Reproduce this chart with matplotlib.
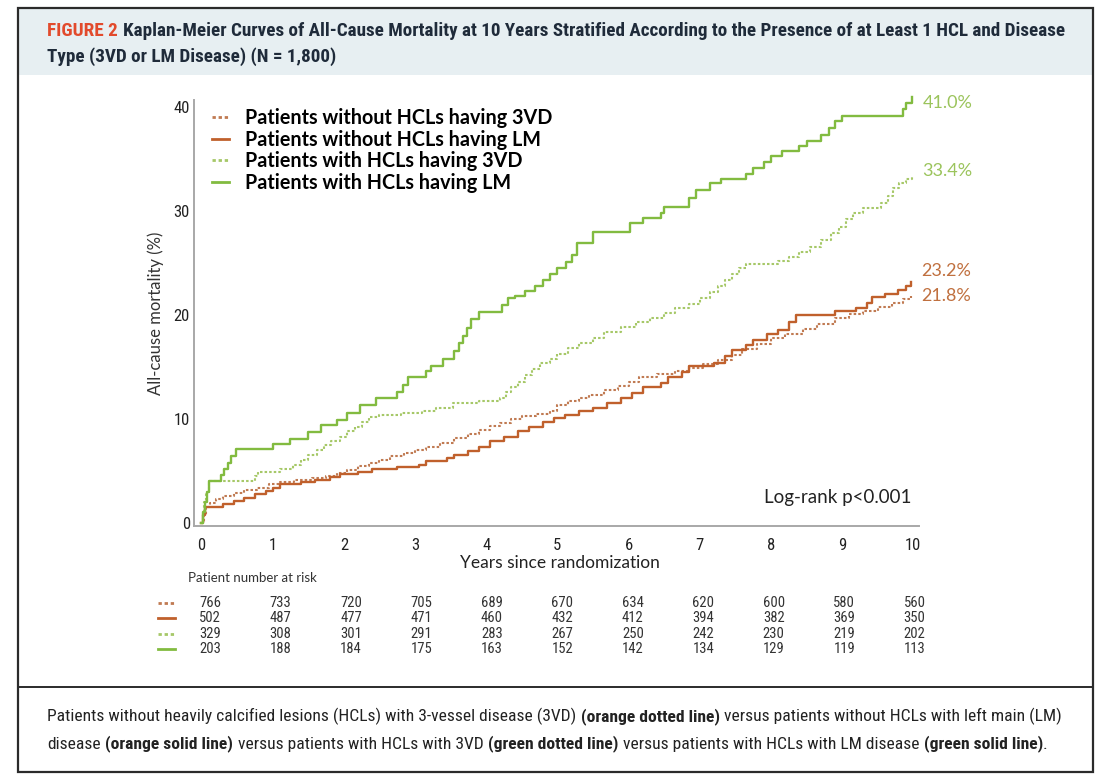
import matplotlib
matplotlib.use("Agg")
import matplotlib.pyplot as plt
import matplotlib.transforms as mtransforms
from matplotlib import font_manager
from matplotlib.lines import Line2D
from matplotlib.patches import Rectangle

# cumulative all-cause mortality (%) read at each event time (years)
t_no_hcl_3vd = [0, 0.03, 0.06, 0.12, 0.2, 0.3, 0.45, 0.6, 0.78, 0.95, 1.1, 1.3, 1.55, 1.75,
                1.9, 2.05, 2.2, 2.35, 2.5, 2.65, 2.85, 3.0, 3.15, 3.35, 3.55, 3.75, 3.9, 4.05,
                4.2, 4.35, 4.5, 4.7, 4.9, 5.0, 5.15, 5.3, 5.45, 5.65, 5.85, 6.0, 6.15, 6.4,
                6.65, 6.85, 7.05, 7.25, 7.45, 7.6, 7.8, 8.0, 8.2, 8.45, 8.65, 8.9, 9.1, 9.3,
                9.5, 9.7, 9.85, 9.97]
m_no_hcl_3vd = [0, 0.8, 1.5, 1.9, 2.3, 2.6, 2.9, 3.2, 3.4, 3.7, 3.9, 4.1, 4.3, 4.5,
                4.8, 5.1, 5.5, 5.8, 6.1, 6.4, 6.7, 7.0, 7.3, 7.7, 8.2, 8.6, 8.9, 9.3,
                9.6, 10.0, 10.3, 10.5, 10.8, 11.3, 11.7, 12.0, 12.3, 12.8, 13.2, 13.6, 14.0, 14.3,
                14.6, 14.9, 15.3, 15.7, 16.2, 16.7, 17.2, 17.8, 18.2, 18.7, 19.1, 19.7, 20.1, 20.4,
                20.8, 21.2, 21.5, 21.8]

t_no_hcl_lm = [0, 0.02, 0.05, 0.3, 0.45, 0.6, 0.75, 0.9, 1.0, 1.1, 1.4, 1.6, 1.8, 1.95,
               2.2, 2.4, 2.75, 3.05, 3.15, 3.45, 3.55, 3.75, 3.9, 4.05, 4.25, 4.45, 4.6, 4.8,
               4.95, 5.1, 5.3, 5.5, 5.7, 5.9, 6.05, 6.2, 6.45, 6.55, 6.75, 6.85, 7.2, 7.35,
               7.45, 7.65, 7.75, 7.95, 8.1, 8.25, 8.35, 8.9, 9.2, 9.35, 9.42, 9.6, 9.78, 9.9,
               9.97]
m_no_hcl_lm = [0, 0.8, 1.5, 1.8, 2.1, 2.4, 2.8, 3.1, 3.4, 3.7, 3.9, 4.1, 4.4, 4.7,
               4.9, 5.2, 5.4, 5.6, 6.0, 6.2, 6.5, 6.9, 7.3, 7.9, 8.3, 8.8, 9.2, 9.7,
               10.1, 10.4, 10.8, 11.1, 11.5, 12.0, 12.5, 13.1, 13.5, 14.0, 14.5, 15.1, 15.4, 16.1,
               16.6, 17.1, 17.6, 18.2, 18.6, 19.3, 20.0, 20.4, 20.7, 21.2, 21.7, 22.0, 22.4, 22.8,
               23.2]

t_hcl_3vd = [0, 0.02, 0.04, 0.07, 0.1, 0.75, 0.8, 1.1, 1.28, 1.4, 1.5, 1.62, 1.72, 1.82,
             1.95, 2.05, 2.15, 2.25, 2.35, 2.5, 2.8, 3.1, 3.3, 3.53, 3.9, 4.2, 4.28, 4.35,
             4.45, 4.55, 4.65, 4.75, 4.9, 5.0, 5.15, 5.3, 5.5, 5.65, 5.9, 6.1, 6.3, 6.5,
             6.65, 6.85, 7.0, 7.15, 7.25, 7.35, 7.45, 7.55, 7.65, 8.1, 8.25, 8.4, 8.55, 8.7,
             8.85, 8.95, 9.05, 9.15, 9.3, 9.55, 9.65, 9.72, 9.8, 9.9, 9.98]
m_hcl_3vd = [0, 1.0, 2.0, 3.0, 4.0, 4.5, 4.9, 5.2, 5.6, 6.1, 6.5, 7.0, 7.5, 7.9,
             8.3, 8.8, 9.2, 9.7, 10.2, 10.4, 10.6, 10.8, 11.1, 11.5, 11.7, 12.0, 12.6, 13.1,
             13.6, 14.2, 14.8, 15.4, 15.8, 16.3, 16.8, 17.3, 17.8, 18.4, 18.9, 19.3, 19.7, 20.2,
             20.7, 21.1, 21.6, 22.2, 22.8, 23.4, 24.0, 24.5, 24.9, 25.2, 25.6, 26.1, 26.6, 27.2,
             27.9, 28.5, 29.2, 29.8, 30.3, 30.8, 31.5, 32.2, 32.7, 33.1, 33.4]

t_hcl_lm = [0, 0.02, 0.05, 0.08, 0.11, 0.27, 0.32, 0.37, 0.42, 0.48, 1.0, 1.25, 1.5, 1.68,
            1.9, 2.05, 2.22, 2.45, 2.75, 2.83, 2.9, 3.15, 3.22, 3.4, 3.55, 3.62, 3.68, 3.73,
            3.78, 3.9, 4.22, 4.3, 4.4, 4.55, 4.68, 4.8, 4.9, 5.0, 5.12, 5.2, 5.27, 5.5,
            6.02, 6.2, 6.45, 6.5, 6.85, 6.95, 7.15, 7.3, 7.65, 7.75, 7.9, 8.0, 8.15, 8.4,
            8.5, 8.7, 8.82, 8.9, 9.0, 9.85, 9.9, 9.98]
m_hcl_lm = [0, 1.0, 2.0, 3.0, 4.0, 4.6, 5.2, 5.8, 6.4, 7.1, 7.6, 8.1, 8.7, 9.4,
            9.9, 10.6, 11.3, 12.0, 12.6, 13.3, 14.0, 14.6, 15.1, 15.8, 16.5, 17.3, 18.0, 18.8,
            19.6, 20.3, 21.0, 21.6, 21.8, 22.3, 22.8, 23.4, 24.0, 24.5, 25.1, 25.8, 26.9, 28.0,
            28.9, 29.3, 29.8, 30.4, 31.3, 32.0, 32.7, 33.1, 33.6, 34.2, 34.7, 35.3, 35.8, 36.3,
            36.8, 37.3, 38.0, 38.7, 39.2, 39.8, 40.4, 41.0]

group_labels = ["Patients without HCLs having 3VD", "Patients without HCLs having LM",
                "Patients with HCLs having 3VD", "Patients with HCLs having LM"]

years = list(range(11))
risk_no_hcl_3vd = [766, 733, 720, 705, 689, 670, 634, 620, 600, 580, 560]
risk_no_hcl_lm = [502, 487, 477, 471, 460, 432, 412, 394, 382, 369, 350]
risk_hcl_3vd = [329, 308, 301, 291, 283, 267, 250, 242, 230, 219, 202]
risk_hcl_lm = [203, 188, 184, 175, 163, 152, 142, 134, 129, 119, 113]

ORANGE_DOT = "#c07a52"
ORANGE = "#c0602c"
GREEN_DOT = "#a6c868"
GREEN = "#82bb40"
DOTS = (0, (1.2, 1.0))

installed = {f.name for f in font_manager.fontManager.ttflist}


def pick(*families):
    for fam in families:
        if fam in installed:
            return fam
    return "DejaVu Sans"


NARROW = pick("Liberation Sans Narrow", "Roboto Condensed", "Open Sans Condensed", "Lato")
BODY = pick("Lato", "Open Sans", "DejaVu Sans")

W, H = 1105, 779


def fx(px):
    return px / W


def fy(py):
    return 1 - py / H


fig = plt.figure(figsize=(W / 100, H / 100), dpi=100)
fig.patch.set_facecolor("white")

bg = fig.add_axes([0, 0, 1, 1], zorder=0)
bg.set_xlim(0, 1)
bg.set_ylim(0, 1)
bg.axis("off")

# header band, outer frame and caption separator
bg.add_patch(Rectangle((fx(18), fy(75)), fx(1093) - fx(18), fy(8) - fy(75),
                       facecolor="#e7eff2", edgecolor="none"))
bg.add_patch(Rectangle((fx(18), fy(772)), fx(1093) - fx(18), fy(8) - fy(772),
                       facecolor="none", edgecolor="#2b2b2b", lw=1.6))
bg.plot([fx(18), fx(1093)], [fy(687), fy(687)], color="#2b2b2b", lw=1.4)


def chained(parts, x, y_bottom, size, family, colors=None):
    prev = None
    for i, (txt, bold) in enumerate(parts):
        col = colors[i] if colors else "#222222"
        kw = dict(fontsize=size, family=family, color=col,
                  fontweight="bold" if bold else "normal", ha="left", va="bottom")
        if prev is None:
            prev = bg.text(fx(x), fy(y_bottom), txt, **kw)
        else:
            gap = size * 0.26 if not txt.startswith((".", ",")) else 0
            prev = bg.annotate(txt, xy=(1, 0), xycoords=prev, xytext=(gap, 0),
                               textcoords="offset points", **kw)
    return prev


# title
chained([("FIGURE 2", True),
         ("Kaplan-Meier Curves of All-Cause Mortality at 10 Years Stratified According "
          "to the Presence of at Least 1 HCL and Disease", True)],
        47, 40, 13.8, NARROW, colors=["#e24a2c", "#1f2b3a"])
chained([("Type (3VD or LM Disease) (N = 1,800)", True)], 47, 66, 13.8, NARROW,
        colors=["#1f2b3a"])

# caption
chained([("Patients without heavily calcified lesions (HCLs) with 3-vessel disease (3VD)", False),
         ("(orange dotted line)", True),
         ("versus patients without HCLs with left main (LM)", False)],
        47, 725, 12.6, NARROW)
chained([("disease", False), ("(orange solid line)", True),
         ("versus patients with HCLs with 3VD", False), ("(green dotted line)", True),
         ("versus patients with HCLs with LM disease", False), ("(green solid line)", True),
         (".", False)],
        47, 752, 12.6, NARROW)

# main Kaplan-Meier panel
ax = fig.add_axes([fx(194), fy(526), fx(919) - fx(194), fy(100) - fy(526)], zorder=2)
ax.set_facecolor("none")

curves = [
    (t_no_hcl_3vd, m_no_hcl_3vd, ORANGE_DOT, DOTS, 1.5),
    (t_no_hcl_lm, m_no_hcl_lm, ORANGE, "-", 1.7),
    (t_hcl_3vd, m_hcl_3vd, GREEN_DOT, DOTS, 1.5),
    (t_hcl_lm, m_hcl_lm, GREEN, "-", 1.7),
]
for (t, m, col, ls, lw), lab in zip(curves, group_labels):
    ax.step(t, m, where="post", color=col, ls=ls, lw=lw, label=lab, clip_on=False)

ax.set_xlim(-0.105, 10.08)
ax.set_ylim(-0.3, 40.7)
ax.set_xticks(years)
ax.set_yticks([0, 10, 20, 30, 40])
ax.tick_params(length=0, labelsize=12, colors="#222222")
ax.tick_params(axis="x", pad=9)
ax.tick_params(axis="y", pad=3)
for lbl in ax.get_xticklabels() + ax.get_yticklabels():
    lbl.set_family(NARROW)
for side in ("top", "right"):
    ax.spines[side].set_visible(False)
for side in ("left", "bottom"):
    ax.spines[side].set_color("#a8a8a8")
    ax.spines[side].set_linewidth(1.4)

ax.set_ylabel("All-cause mortality (%)", fontsize=12, family=BODY, color="#333333")
ax.yaxis.set_label_coords(-0.041, 0.5)
ax.set_xlabel("Years since randomization", fontsize=12.5, family=BODY, color="#222222")
ax.xaxis.set_label_coords(0.505, -0.068)

leg_handles = [Line2D([], [], color=c[2], ls=c[3], lw=2.0) for c in curves]
ax.legend(leg_handles, group_labels, loc="upper left", bbox_to_anchor=(0.011, 1.004),
          frameon=False, handlelength=0.85, handletextpad=0.85, labelspacing=0.08,
          borderpad=0, prop={"family": BODY, "weight": "bold", "size": 14.2})

ax.text(0.99, 0.066, "Log-rank p<0.001", transform=ax.transAxes, ha="right", va="center",
        fontsize=13.5, family=BODY, color="#222222")

# end-of-follow-up values
end_offsets = [(0, 0), (0, 7.7), (0, 3.3), (0, -4.5)]
end_colors = ["#c0703f", "#c0703f", "#9bc45c", "#9bc45c"]
for (t, m, *_), off, col in zip(curves, end_offsets, end_colors):
    ax.annotate(f"{m[-1]:.1f}%", xy=(t[-1], m[-1]), xytext=(7.5, off[1]),
                textcoords="offset points", ha="left", va="center",
                fontsize=13, family=BODY, color=col, annotation_clip=False)

# number at risk table
risk_rows = [risk_no_hcl_3vd, risk_no_hcl_lm, risk_hcl_3vd, risk_hcl_lm]
row_y = [603, 618, 634, 649]
bg.text(fx(188), fy(578), "Patient number at risk", fontsize=9.5, family=BODY,
        color="#333333", ha="left", va="center")
mixed = mtransforms.blended_transform_factory(ax.transData, fig.transFigure)
for row, py, c in zip(risk_rows, row_y, curves):
    bg.plot([fx(158), fx(175)], [fy(py), fy(py)], color=c[2], ls=c[3], lw=2.0)
    for yr, n in zip(years, row):
        ax.text(0.12 + yr * 0.99, fy(py), str(n), transform=mixed, ha="center", va="center",
                fontsize=10.5, family=NARROW, color="#333333", clip_on=False)

fig.savefig("out.png", dpi=100)
